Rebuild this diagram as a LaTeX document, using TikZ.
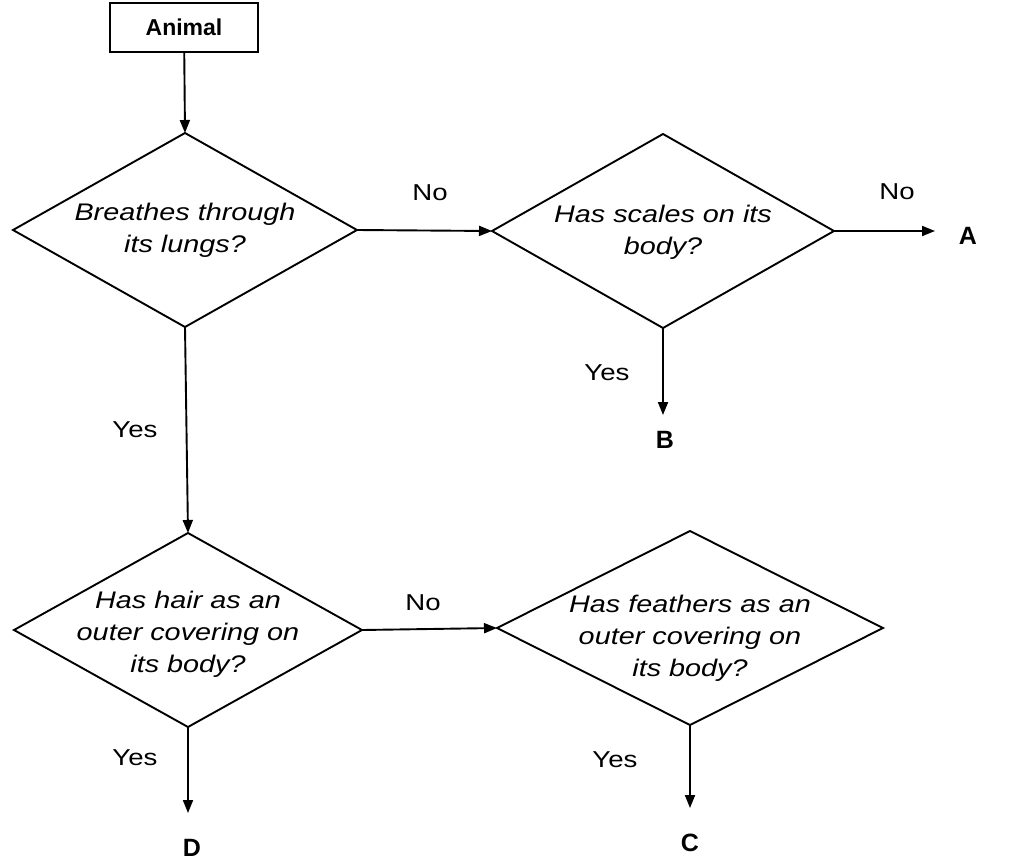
\documentclass[tikz,border=0pt]{standalone}
\usepackage{fontspec}
\setmainfont{Liberation Sans}
\newfontfamily\wide[FakeStretch=1.2]{Liberation Sans}
\usetikzlibrary{shapes.geometric,arrows.meta}
\begin{document}
\begin{tikzpicture}[x=1pt,y=-1pt,
  dia/.style={draw, shape=diamond, inner sep=0pt, outer sep=0pt, line width=1.9pt, minimum width=344pt, minimum height=194pt},
  qtext/.style={font=\fontsize{24}{32}\wide\itshape, align=center, inner sep=0pt},
  lab/.style={font=\fontsize{23}{26}\wide, inner sep=0pt},
  lett/.style={font=\fontsize{25}{28}\selectfont\bfseries, inner sep=0pt},
  arr/.style={-{Triangle[length=13pt,width=10pt]}, line width=1.9pt}]
\path[use as bounding box] (0,0) rectangle (1032,862);
% start box
\node[draw, line width=1.9pt, minimum width=148pt, minimum height=49pt, outer sep=0pt,
      font=\fontsize{23}{26}\selectfont\bfseries] (animal) at (184,27.5) {Animal};
% decisions
\node[dia] (d1) at (185,230) {};
\node[qtext] (t1) at (185,230) {Breathes through\\its lungs?};
\node[dia, minimum width=342pt] (d2) at (663,231) {};
\node[qtext] (t2) at (663,232) {Has scales on its\\body?};
\node[dia, minimum width=348pt] (d3) at (188,630) {};
\node[qtext] (t3) at (188,634) {Has hair as an\\outer covering on\\its body?};
\node[dia, minimum width=386pt] (d4) at (690,628) {};
\node[qtext] (t4) at (690,638) {Has feathers as an\\outer covering on\\its body?};
% end points
\coordinate (aend) at (935,231);
\coordinate (bend) at (663,415);
\coordinate (dend) at (188,813);
\coordinate (cend) at (690,808);
\node[lett] (A) at (968,236) {A};
\node[lett] (B) at (665,440) {B};
\node[lett] (D) at (192,848) {D};
\node[lett] (C) at (690,843) {C};
% labels
\node[lab] (no1) at (430,193) {No};
\node[lab] (no2) at (897,192) {No};
\node[lab] (yes1) at (607,373) {Yes};
\node[lab] (yes2) at (135,430) {Yes};
\node[lab] (no3) at (423,603) {No};
\node[lab] (yes3) at (135,758) {Yes};
\node[lab] (yes4) at (615,760) {Yes};
% connectors
\draw[arr] (animal) -- (d1.north);
\draw[arr] (d1.east) -- (d2.west);
\draw[arr] (d2.east) -- (aend);
\draw[arr] (d2.south) -- (bend);
\draw[arr] (d1.south) -- (d3.north);
\draw[arr] (d3.east) -- (d4.west);
\draw[arr] (d3.south) -- (dend);
\draw[arr] (d4.south) -- (cend);
\end{tikzpicture}
\end{document}
